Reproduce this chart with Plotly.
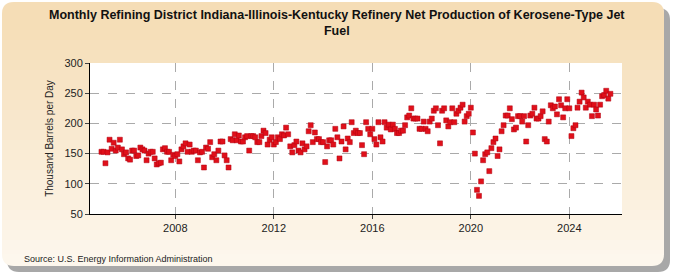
import pandas as pd
import plotly.graph_objects as go

# monthly values, thousand barrels per day, Jan 2005 onward
vals_2005_2008 = [153, 153, 134, 152, 173, 158, 168, 155, 160, 173, 157, 149,
                  152, 142, 140, 155, 155, 146, 147, 160, 157, 155, 139, 150,
                  153, 153, 142, 132, 134, 135, 157, 159, 153, 153, 139, 148,
                  146, 149, 137]
vals_2008_2011 = [157, 162, 167, 153, 165, 153, 155, 155, 139, 152, 153, 127,
                  160, 158, 169, 144, 149, 139, 155, 170, 170, 147, 139, 127,
                  174, 172, 182, 172, 180, 170, 170, 177, 179, 155, 179, 179,
                  177, 169, 169, 179, 188]
vals_2011_2015 = [184, 165, 173, 177, 165, 169, 177, 174, 182, 180, 193, 182,
                  162, 152, 164, 170, 155, 152, 167, 157, 162, 187, 197, 169,
                  185, 174, 174, 169, 169, 136, 162, 172, 172, 165, 191, 177,
                  142, 170, 195, 157, 175, 169, 202, 184, 188]
vals_2015_2019 = [184, 184, 164, 149, 202, 191, 182, 191, 174, 165, 202, 177,
                  170, 202, 193, 198, 190, 198, 191, 184, 184, 188, 188, 197,
                  210, 213, 225, 208, 208, 208, 191, 191, 203, 191, 187, 203,
                  208, 221, 225, 197, 167, 221, 225, 205, 195]
vals_2019_2022 = [202, 225, 202, 216, 221, 226, 231, 203, 212, 216, 226, 185,
                  150, 90, 80, 104, 139, 149, 152, 121, 159, 169, 175, 146,
                  157, 187, 197, 213, 213, 225, 207, 190, 193, 212, 212, 203,
                  212, 170, 197, 213, 216, 226, 208, 208, 212, 220]
vals_2022_2025 = [174, 170, 203, 230, 225, 228, 215, 240, 230, 210, 225, 240,
                  225, 179, 192, 197, 226, 236, 251, 243, 226, 236, 231, 212,
                  231, 223, 213, 231, 245, 247, 254, 241, 249]

values = (vals_2005_2008 + vals_2008_2011 + vals_2011_2015 +
          vals_2015_2019 + vals_2019_2022 + vals_2022_2025)
dates = pd.date_range("2005-01-01", periods=len(values), freq="MS")

tick_years = ["2008", "2012", "2016", "2020", "2024"]
y_ticks = [50, 100, 150, 200, 250, 300]

fig = go.Figure()
fig.add_trace(go.Scatter(
    x=dates, y=values, mode="markers",
    marker=dict(symbol="square", size=5, color="#e0101a",
                line=dict(width=0.5, color="#b00010")),
    hoverinfo="x+y", showlegend=False,
))

# plot area spans x 90..622, y 63..214 px
def px(x):
    return (x - 90) / 532

def py(y):
    return (214 - y) / 151

def rounded(x0, y0, x1, y1, rt, rb):
    return (f"M {px(x0 + rt)},{py(y0)} L {px(x1 - rt)},{py(y0)} "
            f"Q {px(x1)},{py(y0)} {px(x1)},{py(y0 + rt)} "
            f"L {px(x1)},{py(y1 - rb)} Q {px(x1)},{py(y1)} {px(x1 - rb)},{py(y1)} "
            f"L {px(x0 + rb)},{py(y1)} Q {px(x0)},{py(y1)} {px(x0)},{py(y1 - rb)} "
            f"L {px(x0)},{py(y0 + rt)} Q {px(x0)},{py(y0)} {px(x0 + rt)},{py(y0)} Z")

def blend(t):
    top, bot = (245, 221, 182), (253, 247, 237)
    c = [round(a + (b - a) * t) for a, b in zip(top, bot)]
    return f"rgb({c[0]},{c[1]},{c[2]})"

shapes = [
    dict(type="path", xref="paper", yref="paper", layer="below",
         path=rounded(7, 8, 670, 272, 12, 12), fillcolor="#a8a8a8", line=dict(width=0)),
    dict(type="path", xref="paper", yref="paper", layer="below",
         path=rounded(2, 2, 664, 266, 12, 12), fillcolor=blend(1), line=dict(width=0)),
    dict(type="path", xref="paper", yref="paper", layer="below",
         path=rounded(2, 2, 664, 20, 12, 0), fillcolor=blend(0), line=dict(width=0)),
]
n_bands = 24
for i in range(n_bands):
    y0 = 20 + i * 10
    shapes.append(dict(type="rect", xref="paper", yref="paper", layer="below",
                       x0=px(2), x1=px(664), y0=py(y0), y1=py(min(y0 + 10.5, 254)),
                       fillcolor=blend((i + 0.5) / n_bands), line=dict(width=0)))
shapes.append(dict(type="rect", xref="paper", yref="paper", layer="below",
                   x0=0, x1=1, y0=0, y1=1, fillcolor="white", line=dict(width=0)))

fig.update_layout(
    width=675, height=275,
    margin=dict(l=90, r=53, t=63, b=61),
    paper_bgcolor="white", plot_bgcolor="rgba(0,0,0,0)",
    font=dict(family="Liberation Sans", color="#222"),
    shapes=shapes,
    annotations=[
        dict(text="<b>Monthly Refining District Indiana-Illinois-Kentucky Refinery Net Production of Kerosene-Type Jet<br>Fuel</b>",
             xref="paper", yref="paper", x=px(337), y=py(6),
             xanchor="center", yanchor="top", showarrow=False,
             font=dict(size=12.5, color="#111")),
        dict(text="Source: U.S. Energy Information Administration",
             xref="paper", yref="paper", x=px(22), y=py(259),
             xanchor="left", yanchor="middle", showarrow=False,
             font=dict(size=9, color="#222")),
    ],
)

fig.update_xaxes(
    range=[pd.Timestamp("2004-07-15"), pd.Timestamp("2026-02-20")],
    tickvals=[pd.Timestamp(f"{y}-01-01") for y in tick_years],
    ticktext=tick_years, ticks="outside", ticklen=4,
    showgrid=True, gridcolor="#aaaaaa", griddash="dash", gridwidth=1,
    showline=True, linecolor="black", linewidth=1,
    tickfont=dict(size=11), zeroline=False,
)
fig.update_yaxes(
    range=[50, 300], tickvals=y_ticks, ticks="outside", ticklen=4,
    showgrid=True, gridcolor="#aaaaaa", griddash="dash", gridwidth=1,
    showline=True, linecolor="black", linewidth=1,
    tickfont=dict(size=11), zeroline=False,
    title=dict(text="Thousand Barrels per Day", font=dict(size=10), standoff=8),
)

fig.write_html("out.html", config={"displayModeBar": False},
               post_script="document.body.style.margin='0';")
